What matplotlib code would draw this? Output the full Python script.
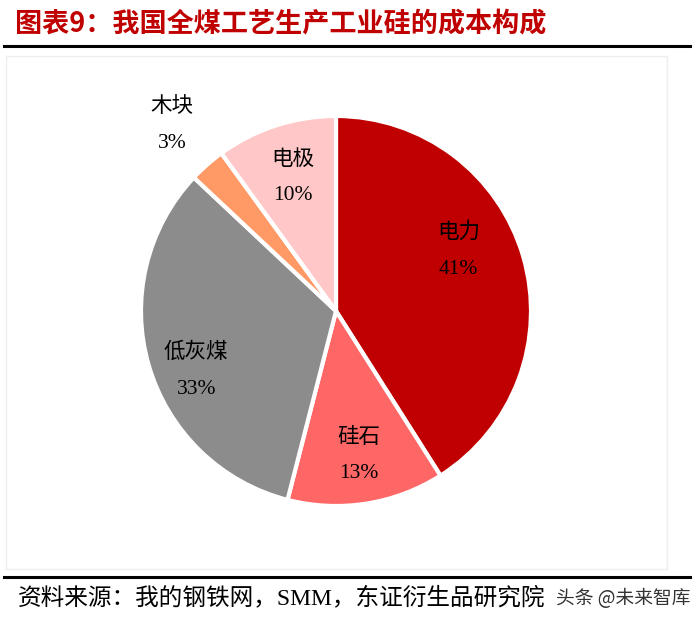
import numpy as np
import matplotlib.pyplot as plt
from matplotlib.patches import Rectangle

# cost components (share, %)
labels = ['电力', '硅石', '低灰煤', '木块', '电极']
shares = [41, 13, 33, 3, 10]
colors = ['#C00000', '#FF6666', '#8C8C8C', '#FF9966', '#FFC7C7']
# label placement: radius fraction and angle nudge (deg) from slice middle
label_r = [0.70, 0.75, 0.78, 1.27, 0.72]
label_dang = [10, 0, 7, 0, 0]

title = '图表9：我国全煤工艺生产工业硅的成本构成'
source = '资料来源：我的钢铁网，SMM，东证衍生品研究院'
mark = '头条 @未来智库'

serif = ['Liberation Serif', 'Noto Sans CJK SC']
cjk = ['Noto Sans CJK SC', 'DejaVu Sans']

fig = plt.figure(figsize=(7, 6.22), dpi=100)

# title, rules, faint frame
fig.text(0.022, 0.962, title, color='#C00000', fontsize=19.5, fontweight='bold',
         family=cjk, va='center', ha='left')
fig.add_artist(plt.Line2D([0.005, 0.986], [0.926, 0.926], color='black', lw=2.2))
fig.add_artist(plt.Line2D([0.005, 0.986], [0.072, 0.072], color='black', lw=2.2))
fig.add_artist(Rectangle((0.008, 0.085), 0.945, 0.825, transform=fig.transFigure,
                         fill=False, ec='#eeeeee', lw=1))
fig.text(0.025, 0.038, source, fontsize=17, family=serif, va='center', ha='left')
fig.text(0.986, 0.038, mark, fontsize=13.5, family=cjk, color='#333333',
         va='center', ha='right')

# pie: center ~ (336, 311) px, radius ~195 px
ax = fig.add_axes([(336 - 220) / 700, 1 - (311 + 220) / 622, 440 / 700, 440 / 622])
wedges, _ = ax.pie(shares, colors=colors, startangle=90, counterclock=False,
                   radius=195 / 220,
                   wedgeprops=dict(edgecolor='white', linewidth=3))
ax.set_xlim(-1, 1)
ax.set_ylim(-1, 1)
ax.set_aspect('equal')

R = 195 / 220
for w, lab, v, r, da in zip(wedges, labels, shares, label_r, label_dang):
    ang = np.deg2rad((w.theta1 + w.theta2) / 2 + da)
    x, y = r * R * np.cos(ang), r * R * np.sin(ang)
    ax.text(x, y, f'{lab}\n{v}%', ha='center', va='center', fontsize=15.5,
            family=serif, linespacing=2.2)

fig.savefig('out.png', dpi=100)
